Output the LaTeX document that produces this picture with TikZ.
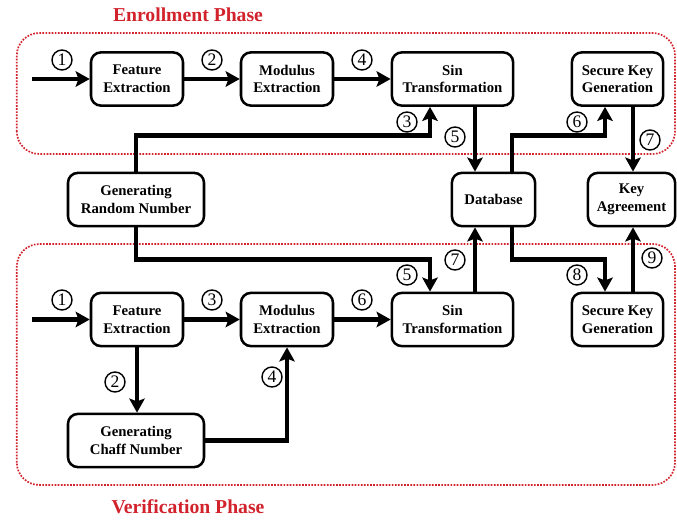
\documentclass[tikz,border=0pt]{standalone}
\usepackage{fontspec}
\setmainfont{Liberation Serif}
\usetikzlibrary{arrows.meta, positioning, calc}
\usepackage{xcolor}
\definecolor{phasered}{RGB}{210,35,45}

\begin{document}
\begin{tikzpicture}[
      block/.style={draw, line width=1.8pt, rounded corners=7pt,
                    minimum height=1.33cm, align=center, fill=white,
                    font=\fontsize{10.5}{12.5}\selectfont\bfseries},
      arr/.style={-{Stealth[length=10pt, width=11pt, inset=2pt]}, line width=3.4pt},
      num/.style={circle, draw, line width=1pt, minimum size=0.5cm,
                  inner sep=0pt, fill=white, font=\fontsize{12.5}{12.5}\selectfont},
      phase/.style={draw=phasered, densely dotted, line width=1.2pt, rounded corners=16pt},
      title/.style={text=phasered, font=\fontsize{14}{16}\selectfont\bfseries}
    ]
    \useasboundingbox (0,0) rectangle (16.925,13.05);

    % phase frames
    \draw[phase] (0.42, 9.2)   rectangle (16.875, 12.225);
    \draw[phase] (0.42, 0.925) rectangle (16.875, 6.95);
    \node[title] (enroll) at (4.7, 12.675) {Enrollment Phase};
    \node[title] (verify) at (4.7, 0.375)  {Verification Phase};

    % enrollment row
    \node[block, minimum width=2.3cm]  (fe1)  at (3.425, 11.075)  {Feature\\Extraction};
    \node[block, minimum width=2.3cm]  (me1)  at (7.175, 11.075)  {Modulus\\Extraction};
    \node[block, minimum width=3.03cm] (st1)  at (11.3125, 11.075) {Sin\\Transformation};
    \node[block, minimum width=2.28cm] (skg1) at (15.4375, 11.075) {Secure Key\\Generation};

    % middle row
    \node[block, minimum width=3.4cm]  (grn) at (3.4, 8.0625)     {Generating\\Random Number};
    \node[block, minimum width=2.08cm] (db)  at (12.3375, 8.0625) {Database};
    \node[block, minimum width=2.18cm] (ka)  at (15.7875, 8.0625) {Key\\Agreement};

    % verification rows
    \node[block, minimum width=2.3cm]  (fe2)  at (3.425, 5.0625)   {Feature\\Extraction};
    \node[block, minimum width=2.3cm]  (me2)  at (7.175, 5.0625)   {Modulus\\Extraction};
    \node[block, minimum width=3.03cm] (st2)  at (11.3125, 5.0625) {Sin\\Transformation};
    \node[block, minimum width=2.28cm] (skg2) at (15.4375, 5.0625) {Secure Key\\Generation};
    \node[block, minimum width=3.4cm]  (gcn)  at (3.4, 2.0375)     {Generating\\Chaff Number};

    % connector ends
    \coordinate (in1) at (0.8, 11.075);
    \coordinate (in2) at (0.8, 5.0625);
    \coordinate (st1l) at ([xshift=-0.5625cm]st1.south);
    \coordinate (st1r) at ([xshift=0.5625cm]st1.south);
    \coordinate (st2l) at ([xshift=-0.5625cm]st2.north);
    \coordinate (st2r) at ([xshift=0.5625cm]st2.north);
    \coordinate (dbt)  at ([xshift=0.4625cm]db.north);
    \coordinate (dbb)  at ([xshift=0.4625cm]db.south);
    \coordinate (sk1l) at ([xshift=-0.3125cm]skg1.south);
    \coordinate (sk1r) at ([xshift=0.3875cm]skg1.south);
    \coordinate (sk2l) at ([xshift=-0.3125cm]skg2.north);
    \coordinate (sk2r) at ([xshift=0.3875cm]skg2.north);

    % enrollment flow
    \draw[arr] (in1) -- (fe1);
    \draw[arr] (fe1) -- (me1);
    \draw[arr] (me1) -- (st1);
    \draw[arr] (grn.north) -- ++(0,0.9) -| (st1l);
    \draw[arr] (st1r) -- (st1r |- db.north);
    \draw[arr] (dbt) -- ++(0,0.9) -| (sk1l);
    \draw[arr] (sk1r) -- (sk1r |- ka.north);

    % verification flow
    \draw[arr] (in2) -- (fe2);
    \draw[arr] (fe2) -- (me2);
    \draw[arr] (me2) -- (st2);
    \draw[arr] (fe2) -- (fe2 |- gcn.north);
    \draw[arr] (gcn.east) -| (me2.south);
    \draw[arr] (grn.south) -- ++(0,-0.8) -| (st2l);
    \draw[arr] (st2r) -- (st2r |- db.south);
    \draw[arr] (dbb) -- ++(0,-0.8) -| (sk2l);
    \draw[arr] (sk2r) -- (sk2r |- ka.south);

    % step numbers
    \node[num] (e1) at (1.55, 11.55)   {1};
    \node[num] (e2) at (5.3, 11.55)    {2};
    \node[num] (e3) at (10.175, 10.0)  {3};
    \node[num] (e4) at (9.05, 11.55)   {4};
    \node[num] (e5) at (11.375, 9.625) {5};
    \node[num] (e6) at (14.425, 10.0)  {6};
    \node[num] (e7) at (16.25, 9.55)   {7};

    \node[num] (v1) at (1.55, 5.55)    {1};
    \node[num] (v2) at (2.875, 3.5)    {2};
    \node[num] (v3) at (5.3, 5.55)     {3};
    \node[num] (v4) at (6.8, 3.625)    {4};
    \node[num] (v5) at (10.175, 6.175) {5};
    \node[num] (v6) at (9.05, 5.55)    {6};
    \node[num] (v7) at (11.375, 6.55)  {7};
    \node[num] (v8) at (14.425, 6.175) {8};
    \node[num] (v9) at (16.3, 6.6)     {9};
  \end{tikzpicture}
\end{document}
